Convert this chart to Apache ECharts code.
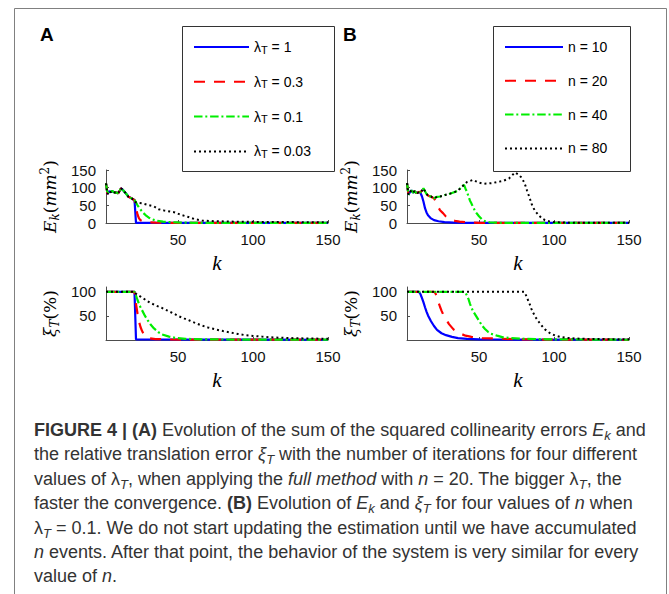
<!DOCTYPE html>
<html><head><meta charset="utf-8">
<script src="https://cdn.jsdelivr.net/npm/echarts@6/dist/echarts.min.js"></script>
<style>html,body{margin:0;padding:0;background:#fff;}#c{width:669px;height:594px;}</style>
</head><body><div id="c"></div>
<script>
// ---------- tick labels ----------
const kTicks = [50, 100, 150];
const ekTicks = [0, 50, 100, 150];
const xiTicks = [50, 100];

// ---------- legend names ----------
const namesA = ['λT = 1', 'λT = 0.3', 'λT = 0.1', 'λT = 0.03'];
const namesB = ['n = 10', 'n = 20', 'n = 40', 'n = 80'];

// ---------- Panel A : E_k (k, value) ----------
const aEkCommon = [[2,112],[3,82],[4,90],[5,87],[6,91],[7,88],[8,86],[9,86],[10,84],[11,90],[12,98],[13,95],[14,90],[15,85],[16,80],[17,74],[18,72],[19,70],[20,67],[21,65]];
const aEkBlue  = [[22,0.5],[40,0.3],[150,0.2]];
const aEkRed   = [[22,42],[23,24],[24,13],[25,8],[27,4],[30,2],[35,1],[45,0.4],[150,0.2]];
const aEkGreen = [[22,58],[23,50],[24,44],[25,38],[27,28],[29,20],[31,14],[33,10],[36,6],[40,4],[45,2.5],[50,1.5],[60,0.6],[150,0.3]];
const aEkBlack = [[22,58],[26,56],[30,51],[34,47],[37,39],[41,35],[48,30],[52,23],[57,17],[61,11],[66,7],[72,5.5],[84,4],[106,3],[150,2]];

// ---------- Panel A : xi_T ----------
const aXiCommon = [[2,100],[21,100]];
const aXiBlue  = [[22,1],[150,0.5]];
const aXiRed   = [[22,75],[23,55],[24,38],[25,27],[26,19],[27,13],[28,9],[29,6],[31,3.5],[35,2],[45,1],[150,0.6]];
const aXiGreen = [[22,92],[23,83],[24,75],[25,68],[26,62],[28,50],[30,40],[32,31],[34,24],[37,16],[40,11],[44,7],[48,4.5],[55,2.5],[65,1.5],[80,1],[150,0.6]];
const aXiBlack = [[22,96],[25,90],[28,84],[31,78],[35,72],[39,67],[43,61],[47,55],[50,50],[54,45],[58,40],[61,36],[65,31],[70,26],[75,22],[80,18.5],[85,15.5],[90,12.5],[95,10],[100,8.5],[106,7],[112,5.5],[120,4.5],[130,3.5],[140,3],[150,2.5]];

// ---------- Panel B : E_k ----------
const bEkCommon = [[2,113],[3,80],[4,88],[5,92],[6,86],[7,90],[8,86],[9,85],[10,88]];
const bEkBlue  = [[11,85],[12,75],[13,60],[14,42],[15,30],[16,22],[18,13],[20,8],[23,5],[27,2.5],[33,1],[42,0.3],[150,0.2]];
const bEkRGK   = [[11,87],[12,92],[13,98],[14,90],[15,82],[16,78],[17,76],[18,75],[19,72],[20,70]];
const bEkRed   = [[21,62],[22,52],[23,44],[24,36],[26,28],[28,18],[31,10],[34,6],[37,4],[42,2],[50,0.5],[150,0.2]];
const bEkGK    = [[21,72],[22,74],[24,75],[26,77],[28,80],[30,82],[32,85],[34,88],[36,92],[38,100],[40,108]];
const bEkGreen = [[41,97],[42,88],[43,75],[44,63],[45,55],[46,45],[48,30],[50,19],[52,10],[54,5],[57,2],[62,0.8],[70,0.3],[150,0.2]];
const bEkBlack = [[42,116],[44,119],[46,122],[48,118],[50,114],[53,111],[56,112],[59,113],[62,116],[66,119],[70,126],[74,143],[76,138],[78,130],[80,116],[81,105],[82,92],[83,80],[84,68],[85,55],[86,45],[87,37],[88,31],[90,21],[92,13],[94,8],[97,4.5],[100,2.5],[105,1.5],[110,1],[150,0.5]];

// ---------- Panel B : xi_T ----------
const bXiBlue  = [[2,100],[10,100],[11,95],[12,87],[13,78],[14,68],[15,59],[16,51],[18,39],[20,29],[22,21],[25,14],[28,10],[32,6.5],[36,4],[42,2.5],[50,1.5],[60,1],[150,0.5]];
const bXiRed   = [[2,100],[20,100],[21,97],[22,88],[23,78],[24,69],[25,61],[26,54],[28,43],[30,33],[33,22],[37,14],[41,9],[45,6.5],[52,4],[62,3],[75,1.5],[90,1],[150,0.5]];
const bXiGreen = [[2,100],[40,100],[41,98],[42,92],[43,85],[44,75],[45,67],[46,60],[48,50],[50,40],[52,30],[54,23],[56,17],[58,13],[62,9],[66,5.5],[71,4],[80,2.5],[95,1.5],[150,0.5]];
const bXiBlack = [[2,100],[80,100],[81,95],[82,88],[83,80],[84,73],[85,64],[86,57],[88,46],[90,37],[92,29],[94,22],[96,17],[98,13],[101,9],[104,6.5],[108,4.5],[115,3],[125,2],[150,1.5]];

// ---------- styles ----------
const colors = ['#0000ff', '#ff0000', '#00ee00', '#000000'];
const dashes = ['solid', [11, 9], [8.5, 2.8, 2, 2.8], [2, 3]];
const AX = '#4d4d4d';
const SANS = 'Liberation Sans';
const MATH = 'DejaVu Serif';
const SERIF = 'Liberation Serif';

function line(name, data, idx, g) {
  return {
    type: 'line', name: name, data: data, xAxisIndex: g, yAxisIndex: g,
    symbol: 'none', showSymbol: false, silent: true, animation: false,
    lineStyle: { color: colors[idx], width: idx === 3 ? 2 : 2.2, type: dashes[idx], cap: 'butt' },
    itemStyle: { color: colors[idx] }, z: 2 + idx
  };
}

const grids = [
  { left: 106, top: 170, width: 222, height: 53 },
  { left: 106, top: 287, width: 222, height: 53 },
  { left: 407, top: 170, width: 222, height: 53 },
  { left: 407, top: 287, width: 222, height: 53 }
];

function xAx(g) {
  return {
    gridIndex: g, type: 'value', min: 2, max: 150,
    axisLine: { show: true, onZero: false, lineStyle: { color: AX, width: 1 } },
    axisTick: { show: true, inside: true, length: 3, customValues: kTicks, lineStyle: { color: AX } },
    axisLabel: { customValues: kTicks, color: '#111', fontSize: 15, fontFamily: SANS, margin: 9 },
    splitLine: { show: false },
    name: 'k', nameLocation: 'middle', nameGap: 29,
    nameTextStyle: { fontFamily: SERIF, fontStyle: 'italic', fontSize: 21, color: '#000' }
  };
}
const mathRich = {
  it: { fontFamily: MATH, fontStyle: 'italic', fontSize: 17, color: '#000', lineHeight: 22 },
  up: { fontFamily: MATH, fontSize: 17, color: '#000', lineHeight: 22 },
  sub: { fontFamily: MATH, fontStyle: 'italic', fontSize: 12, color: '#000', lineHeight: 12, verticalAlign: 'bottom' },
  sup: { fontFamily: MATH, fontSize: 12, color: '#000', lineHeight: 12, verticalAlign: 'top' }
};
function yAx(g, isEk) {
  const ticks = isEk ? ekTicks : xiTicks;
  return {
    gridIndex: g, type: 'value', min: 0, max: isEk ? 150 : 110,
    axisLine: { show: true, onZero: false, lineStyle: { color: AX, width: 1 } },
    axisTick: { show: true, inside: true, length: 3, customValues: ticks, lineStyle: { color: AX } },
    axisLabel: { customValues: ticks, color: '#111', fontSize: 15, fontFamily: SANS, margin: 10 },
    splitLine: { show: false },
    name: isEk ? '{it|E}{sub|k}{up|(}{it|mm}{sup|2}{up|)}' : '{it|ξ}{sub|T}{up|(%)}',
    nameLocation: 'middle', nameRotate: 90, nameGap: 45,
    nameTextStyle: { rich: mathRich }
  };
}

const series = [
  line(namesA[0], aEkCommon.concat(aEkBlue), 0, 0),
  line(namesA[1], aEkCommon.concat(aEkRed), 1, 0),
  line(namesA[2], aEkCommon.concat(aEkGreen), 2, 0),
  line(namesA[3], aEkCommon.concat(aEkBlack), 3, 0),
  line(namesA[0], aXiCommon.concat(aXiBlue), 0, 1),
  line(namesA[1], aXiCommon.concat(aXiRed), 1, 1),
  line(namesA[2], aXiCommon.concat(aXiGreen), 2, 1),
  line(namesA[3], aXiCommon.concat(aXiBlack), 3, 1),
  line(namesB[0], bEkCommon.concat(bEkBlue), 0, 2),
  line(namesB[1], bEkCommon.concat(bEkRGK, bEkRed), 1, 2),
  line(namesB[2], bEkCommon.concat(bEkRGK, bEkGK, bEkGreen), 2, 2),
  line(namesB[3], bEkCommon.concat(bEkRGK, bEkGK, bEkBlack), 3, 2),
  line(namesB[0], bXiBlue, 0, 3),
  line(namesB[1], bXiRed, 1, 3),
  line(namesB[2], bXiGreen, 2, 3),
  line(namesB[3], bXiBlack, 3, 3)
];

const legRich = {
  a: { fontFamily: SANS, fontSize: 14, color: '#000', lineHeight: 16 },
  s: { fontFamily: SANS, fontSize: 11, color: '#000', lineHeight: 10, verticalAlign: 'bottom' }
};
function legend(names, left, w, isA) {
  return {
    data: names, orient: 'vertical', left: left, top: 40, padding: 0,
    itemWidth: w, itemHeight: 14, itemGap: 19.8, selectedMode: false,
    itemStyle: { opacity: 0 },
    formatter: isA ? function (n) { return '{a|λ}{s|T}{a|' + n.slice(2) + '}'; }
                   : function (n) { return '{a|' + n + '}'; },
    textStyle: { rich: legRich }
  };
}

// ---------- caption ----------
const capR = { fontFamily: SANS, fontSize: 18, fill: '#333', lineHeight: 24 };
const capRich = {
  r: capR,
  b: Object.assign({}, capR, { fontWeight: 'bold' }),
  i: Object.assign({}, capR, { fontStyle: 'italic' }),
  s: { fontFamily: SANS, fontSize: 13, fontStyle: 'italic', fill: '#333', lineHeight: 15, verticalAlign: 'bottom' }
};
const captionLines = [
  '{b|FIGURE 4 | (A)}{r| Evolution of the sum of the squared collinearity errors }{i|E}{s|k}{r| and}',
  '{r|the relative translation error }{i|ξ}{s|T}{r| with the number of iterations for four different}',
  '{r|values of λ}{s|T}{r|, when applying the }{i|full method}{r| with }{i|n}{r| = 20. The bigger λ}{s|T}{r|, the}',
  '{r|faster the convergence. }{b|(B)}{r| Evolution of }{i|E}{s|k}{r| and }{i|ξ}{s|T}{r| for four values of }{i|n}{r| when}',
  '{r|λ}{s|T}{r| = 0.1. We do not start updating the estimation until we have accumulated}',
  '{i|n}{r| events. After that point, the behavior of the system is very similar for every}',
  '{r|value of }{i|n}{r|.}'
];

const graphic = [
  { type: 'rect', shape: { x: 14.5, y: 8.5, width: 652, height: 620 }, style: { fill: null, stroke: '#808080', lineWidth: 1 }, silent: true },
  { type: 'rect', shape: { x: 182.5, y: 26.5, width: 152, height: 145 }, style: { fill: null, stroke: '#333', lineWidth: 1 }, silent: true },
  { type: 'rect', shape: { x: 493.5, y: 26.5, width: 137, height: 145 }, style: { fill: null, stroke: '#333', lineWidth: 1 }, silent: true },
  { type: 'text', x: 40, y: 34, style: { text: 'A', font: 'bold 19px "Liberation Sans"', fill: '#000', verticalAlign: 'middle' }, silent: true },
  { type: 'text', x: 343, y: 34, style: { text: 'B', font: 'bold 19px "Liberation Sans"', fill: '#000', verticalAlign: 'middle' }, silent: true }
];
captionLines.forEach(function (t, i) {
  graphic.push({ type: 'text', x: 34, y: 430 + i * 24.4, silent: true,
    style: { text: t, rich: capRich, verticalAlign: 'middle', fill: '#333' } });
});

const chart = echarts.init(document.getElementById('c'), null, { renderer: 'svg' });
chart.setOption({
  animation: false,
  backgroundColor: '#fff',
  grid: grids,
  xAxis: [xAx(0), xAx(1), xAx(2), xAx(3)],
  yAxis: [yAx(0, true), yAx(1, false), yAx(2, true), yAx(3, false)],
  legend: [legend(namesA, 193, 55, true), legend(namesB, 504, 58, false)],
  series: series,
  graphic: graphic
});
</script></body></html>
